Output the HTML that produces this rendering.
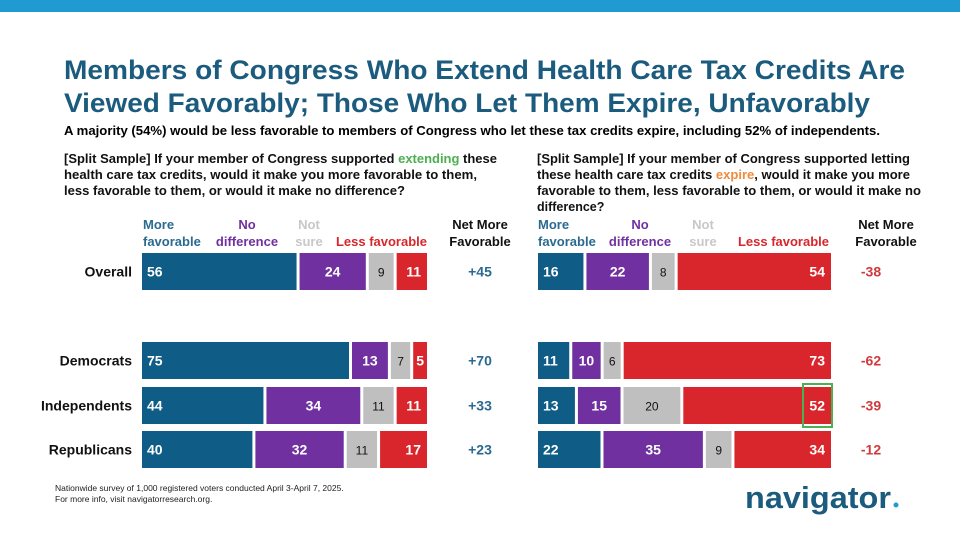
<!DOCTYPE html>
<html><head><meta charset="utf-8"><style>
html,body{margin:0;padding:0;background:#fff;width:960px;height:540px;overflow:hidden}
svg{display:block;font-family:"Liberation Sans",sans-serif}
</style></head><body>
<svg id="chart" width="960" height="540" viewBox="0 0 960 540">
<rect x="0" y="0" width="960" height="12" fill="#1f9bd1"/>
<text x="64" y="79" font-size="27" font-weight="bold" fill="#1b5b7e" textLength="841" lengthAdjust="spacingAndGlyphs">Members of Congress Who Extend Health Care Tax Credits Are</text>
<text x="64" y="112" font-size="27" font-weight="bold" fill="#1b5b7e" textLength="806" lengthAdjust="spacingAndGlyphs">Viewed Favorably; Those Who Let Them Expire, Unfavorably</text>
<text x="64" y="135" font-size="13" font-weight="bold" fill="#000" textLength="816" lengthAdjust="spacingAndGlyphs">A majority (54%) would be less favorable to members of Congress who let these tax credits expire, including 52% of independents.</text>
<g font-size="12.5" font-weight="bold" fill="#111">
<text x="64" y="163" textLength="433" lengthAdjust="spacingAndGlyphs">[Split Sample] If your member of Congress supported <tspan fill="#4caf50">extending</tspan> these</text>
<text x="64" y="179" textLength="413" lengthAdjust="spacingAndGlyphs">health care tax credits, would it make you more favorable to them,</text>
<text x="64" y="195" textLength="341" lengthAdjust="spacingAndGlyphs">less favorable to them, or would it make no difference?</text>
</g>
<g font-size="12.5" font-weight="bold" fill="#111">
<text x="537" y="163" textLength="373" lengthAdjust="spacingAndGlyphs">[Split Sample] If your member of Congress supported letting</text>
<text x="537" y="179" textLength="373" lengthAdjust="spacingAndGlyphs">these health care tax credits <tspan fill="#f08a3c">expire</tspan>, would it make you more</text>
<text x="537" y="195" textLength="384" lengthAdjust="spacingAndGlyphs">favorable to them, less favorable to them, or would it make no</text>
<text x="537" y="211">difference?</text>
</g>
<g id="plots"></g>
<text x="55" y="491" font-size="8.5" fill="#222">Nationwide survey of 1,000 registered voters conducted April 3-April 7, 2025.</text>
<text x="55" y="502" font-size="8.5" fill="#222">For more info, visit navigatorresearch.org.</text>
<text x="745" y="508" font-size="31" font-weight="bold" fill="#1b5b7e" textLength="146" lengthAdjust="spacingAndGlyphs">navigator</text>
<circle cx="896" cy="505" r="2.5" fill="#1f9bd1"/>
</svg>
<script>
const groups = ["Overall","Democrats","Independents","Republicans"];
const extendMore = [56,75,44,40];
const extendNoDiff = [24,13,34,32];
const extendNotSure = [9,7,11,11];
const extendLess = [11,5,11,17];
const extendNet = ["+45","+70","+33","+23"];
const expireMore = [16,11,13,22];
const expireNoDiff = [22,10,15,35];
const expireNotSure = [8,6,20,9];
const expireLess = [54,73,52,34];
const expireNet = ["-38","-62","-39","-12"];

const NS="http://www.w3.org/2000/svg";
const plots=document.getElementById('plots');
const rowY=[253,342,387,431], barH=37, gap=3;
const colors=["#0f5c87","#7030a0","#bfbfbf","#d9262c"];
function mk(tag,attrs,parent){const e=document.createElementNS(NS,tag);for(const k in attrs)e.setAttribute(k,attrs[k]);parent.appendChild(e);return e;}
function drawPanel(x0,x1,series,net,netX,netColor,key){
  const g=mk('g',{},plots);
  
  
  groups.forEach((grp,i)=>{
    let x=x0;
    const vals=series.map(s=>s[i]);
    const sum=vals.reduce((a,b)=>a+b,0);
    const k=((x1-x0-3*gap)/sum);
    vals.forEach((v,j)=>{
      const w=v*k;
      const r=mk('rect',{x:x,y:rowY[i],width:w,height:barH,fill:colors[j]},g);
      
      
      let tx,anchor;
      if(j===0){tx=x+5;anchor='start';}
      else if(j===3){tx=x+w-6;anchor='end';}
      else {tx=x+w/2;anchor='middle';}
      if(w<20){tx=x+w/2;anchor='middle';}
      const t=mk('text',{x:tx,y:rowY[i]+barH/2+5,'text-anchor':anchor,'font-size':j===2?12:14,'font-weight':j===2?'normal':'bold',fill:j===2?'#111':'#fff'},g);
      t.textContent=v;
      
      
      x+=w+gap;
    });
    const nt=mk('text',{x:netX,y:rowY[i]+barH/2+5,'text-anchor':'middle','font-size':14,'font-weight':'bold',fill:netColor},g);
    nt.textContent=net[i];
    
    
  });
}
drawPanel(142,427,[extendMore,extendNoDiff,extendNotSure,extendLess],extendNet,480,"#2a6a91","extend");
drawPanel(538,831,[expireMore,expireNoDiff,expireNotSure,expireLess],expireNet,871,"#cf3a3c","expire");
const hb=mk('rect',{x:803,y:384,width:29,height:43,fill:'none',stroke:'#4caf50','stroke-width':2},plots);


groups.forEach((grp,i)=>{
  const t=mk('text',{x:132,y:rowY[i]+barH/2+5,'text-anchor':'end','font-size':14,'font-weight':'bold',fill:'#111'},plots);
  t.textContent=grp;
  
  
});
const headers=[
 [143,'start','#2a6a91','More','favorable'],[247,'middle','#7030a0','No','difference'],[309,'middle','#c8c8c8','Not','sure'],[427,'end','#d9262c','','Less favorable'],[480,'middle','#111','Net More','Favorable'],
 [538,'start','#2a6a91','More','favorable'],[640,'middle','#7030a0','No','difference'],[703,'middle','#c8c8c8','Not','sure'],[829,'end','#d9262c','','Less favorable'],[886,'middle','#111','Net More','Favorable']];
headers.forEach(h=>{
  const t=mk('text',{'text-anchor':h[1],'font-size':13,'font-weight':'bold',fill:h[2]},plots);
  
  
  if(h[3]){const a=mk('tspan',{x:h[0],y:229},t);a.textContent=h[3];}
  const b=mk('tspan',{x:h[0],y:246},t);b.textContent=h[4];
});
</script>
</body></html>
